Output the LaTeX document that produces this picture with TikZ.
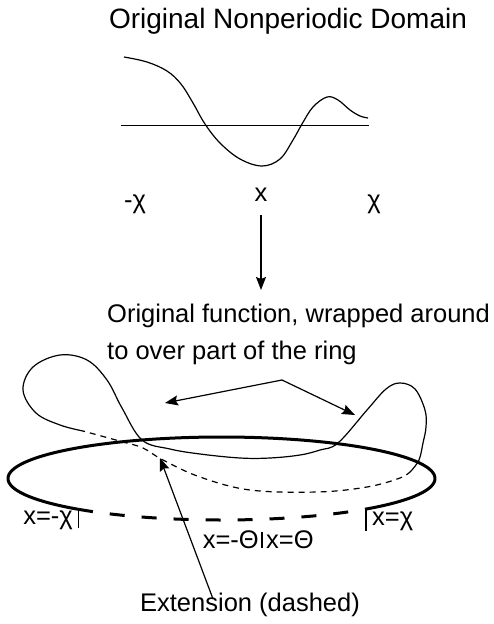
\documentclass[tikz,border=0pt]{standalone}
\usepackage{fontspec}
\setmainfont{Liberation Sans}
\usetikzlibrary{arrows.meta}

\begin{document}
\begin{tikzpicture}[
  x=1pt, y=-1pt,
  lbl/.style={font=\fontsize{25.5}{37}\selectfont, inner sep=0pt},
  titlelbl/.style={font=\fontsize{28}{34}\selectfont, inner sep=0pt},
  fcurve/.style={line width=1.2pt, line join=round},
  ring/.style={line width=3pt},
  tickmark/.style={line width=1.2pt},
  arr/.style={line width=1.2pt, -{Stealth[length=13pt, width=10pt, inset=2pt]}}
]
  \useasboundingbox (0,0) rectangle (494,624);

  \node[titlelbl, anchor=base] (title) at (288,28) {Original Nonperiodic Domain};

  \draw[line width=1pt] (121,125) -- (369,125);
  \draw[fcurve] plot[smooth, tension=0.6] coordinates {
    (124,57) (147,62) (167,71) (181,84) (193,103) (205,124) (220,143)
    (240,159) (262,166) (280,159) (293,140) (302,124) (313,107)
    (327,97) (338,100) (350,110) (360,116) (368,118)};

  \node[lbl, anchor=base] (mchi) at (135,208) {-χ};
  \node[lbl, anchor=base] (xlab) at (261,201) {x};
  \node[lbl, anchor=base] (pchi) at (374,208) {χ};

  \coordinate (mapend) at (261,290);
  \draw[arr] ([yshift=-14pt]xlab.south) -- (mapend);

  \node[lbl, anchor=north west, align=left] (wrap) at (107,304)
    {Original function, wrapped around\\to over part of the ring};
  \coordinate (fork) at (282,380);
  \coordinate (lefttip) at (165,403);
  \coordinate (righttip) at (355,415);
  \draw[arr] (fork) -- (lefttip);
  \draw[arr] (fork) -- (righttip);

  \draw[ring] plot[domain=132.2:407.4, samples=150]
    ({221.5+213.5*cos(\x)},{478.5+41.5*sin(\x)});
  \draw[ring, dash pattern=on 15pt off 17pt] plot[domain=132.2:47.4, samples=80]
    ({221.5+213.5*cos(\x)},{478.5+41.5*sin(\x)});

  \coordinate (lend) at (78.1,509.2);
  \coordinate (rend) at (366,509);
  \coordinate (mid) at (262,532);
  \draw[tickmark] (lend) -- ++(0,19);
  \draw[tickmark] (rend) -- ++(0,22);
  \draw[tickmark] (mid) -- ++(0,16);

  \node[lbl, anchor=east] (xlo) at (73,520) {x=-χ};
  \node[lbl, anchor=west] (xhi) at (372,521) {x=χ};
  \node[lbl, anchor=east] (tlo) at (259,540) {x=-Θ};
  \node[lbl, anchor=west] (thi) at (266,540) {x=Θ};

  \draw[fcurve] plot[smooth, tension=0.6] coordinates {
    (83,431) (60,425) (36,413) (23,390) (33,367) (60,355) (87,360)
    (107,380) (122,408) (142,440) (170,449) (200,454) (240,458)
    (270,458) (300,455) (320,450) (338,443) (367,410) (386,389)
    (400,383) (415,389) (425,410) (426,427) (423,443) (419,460) (411,471)};
  \draw[fcurve, dash pattern=on 6pt off 5pt] plot[smooth, tension=0.6] coordinates {
    (411,471) (400,478) (367,487) (317,492) (250,490) (200,477)
    (163,460) (143,448) (123,442) (83,431)};

  \node[lbl] (ext) at (250,605) {Extension (dashed)};
  \coordinate (exttip) at (160,458);
  \draw[arr] ([xshift=-37pt, yshift=-6pt]ext.north) -- (exttip);
\end{tikzpicture}
\end{document}
